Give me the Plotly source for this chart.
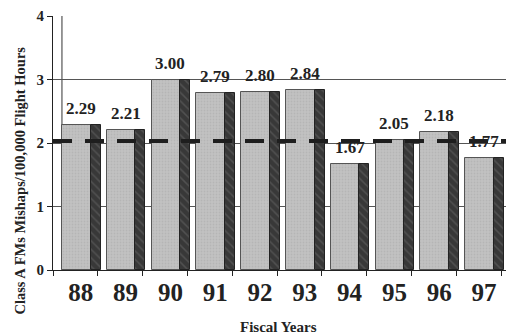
import plotly.graph_objects as go

# Class A mishap rates per fiscal year
years = ["88", "89", "90", "91", "92", "93", "94", "95", "96", "97"]
rates = [2.29, 2.21, 3.00, 2.79, 2.80, 2.84, 1.67, 2.05, 2.18, 1.77]
average_rate = 2.03
y_ticks = [0, 1, 2, 3, 4]

FONT = "Liberation Serif, Times New Roman, serif"
pos = list(range(len(years)))
x_left, x_right = -0.5, 9.61

fig = go.Figure()

# front face of each bar
fig.add_trace(go.Bar(
    x=pos, y=rates, width=0.64, offset=-0.30,
    marker=dict(color="#c2c2c2", line=dict(color="#555555", width=1),
                pattern=dict(shape=".", fgcolor="#a8a8a8", size=3, solidity=0.3)),
    hoverinfo="skip", showlegend=False,
))
# dark hatched side face of each bar
fig.add_trace(go.Bar(
    x=pos, y=rates, width=0.22, offset=0.34,
    marker=dict(color="#383838", line=dict(color="#222222", width=1),
                pattern=dict(shape="\\", fgcolor="#6a6a6a", size=6, solidity=0.25)),
    hoverinfo="skip", showlegend=False,
))
# dashed average line
fig.add_trace(go.Scatter(
    x=[x_left, x_right], y=[average_rate, average_rate], mode="lines",
    line=dict(color="#1e1e1e", width=4, dash="19px,13px"),
    hoverinfo="skip", showlegend=False,
))

# value labels above the bars
for p, v in zip(pos, rates):
    fig.add_annotation(
        x=p + 0.12, y=v, text=f"{v:.2f}", showarrow=False,
        yanchor="bottom", yshift=5,
        font=dict(family=FONT, size=17, color="#222222", weight="bold"),
    )

# axis titles
fig.add_annotation(
    text="Class A FMs Mishaps/100,000 Flight Hours", textangle=-90,
    xref="paper", yref="paper", x=-0.073, y=0.352, showarrow=False,
    xanchor="center", yanchor="middle",
    font=dict(family=FONT, size=14.5, color="#222222", weight="bold"),
)
fig.add_annotation(
    text="Fiscal Years", xref="paper", yref="paper", x=0.497, y=-0.224,
    showarrow=False, xanchor="center", yanchor="middle",
    font=dict(family=FONT, size=15, color="#222222", weight="bold"),
)

# back-wall edge line
fig.add_shape(type="line", xref="x", yref="y", x0=-0.3, x1=-0.3, y0=0, y1=4,
              line=dict(color="#333333", width=1), layer="below")

fig.update_layout(
    width=506, height=336,
    margin=dict(l=53, r=0, t=16, b=66),
    paper_bgcolor="white", plot_bgcolor="white",
    barmode="overlay", bargap=0,
    font=dict(family=FONT, color="#222222"),
)
fig.update_xaxes(
    range=[x_left, x_right], tickmode="array",
    tickvals=[p + 0.12 for p in pos], ticktext=years,
    ticks="", showgrid=False, zeroline=False,
    showline=True, linecolor="#222222", linewidth=1,
    tickfont=dict(family=FONT, size=25, color="#222222", weight="bold"),
    minor=dict(tickvals=[p - 0.5 for p in pos] + [9.5], ticks="outside",
               ticklen=5, tickcolor="#222222", showgrid=False),
)
fig.update_yaxes(
    range=[0, 4], tickvals=y_ticks, ticks="outside", ticklen=5,
    tickcolor="#222222", showgrid=True, gridcolor="#555555", gridwidth=1,
    zeroline=False, showline=True, linecolor="#222222", linewidth=1,
    tickfont=dict(family=FONT, size=15, color="#222222", weight="bold"),
)

fig.write_html("out.html")
